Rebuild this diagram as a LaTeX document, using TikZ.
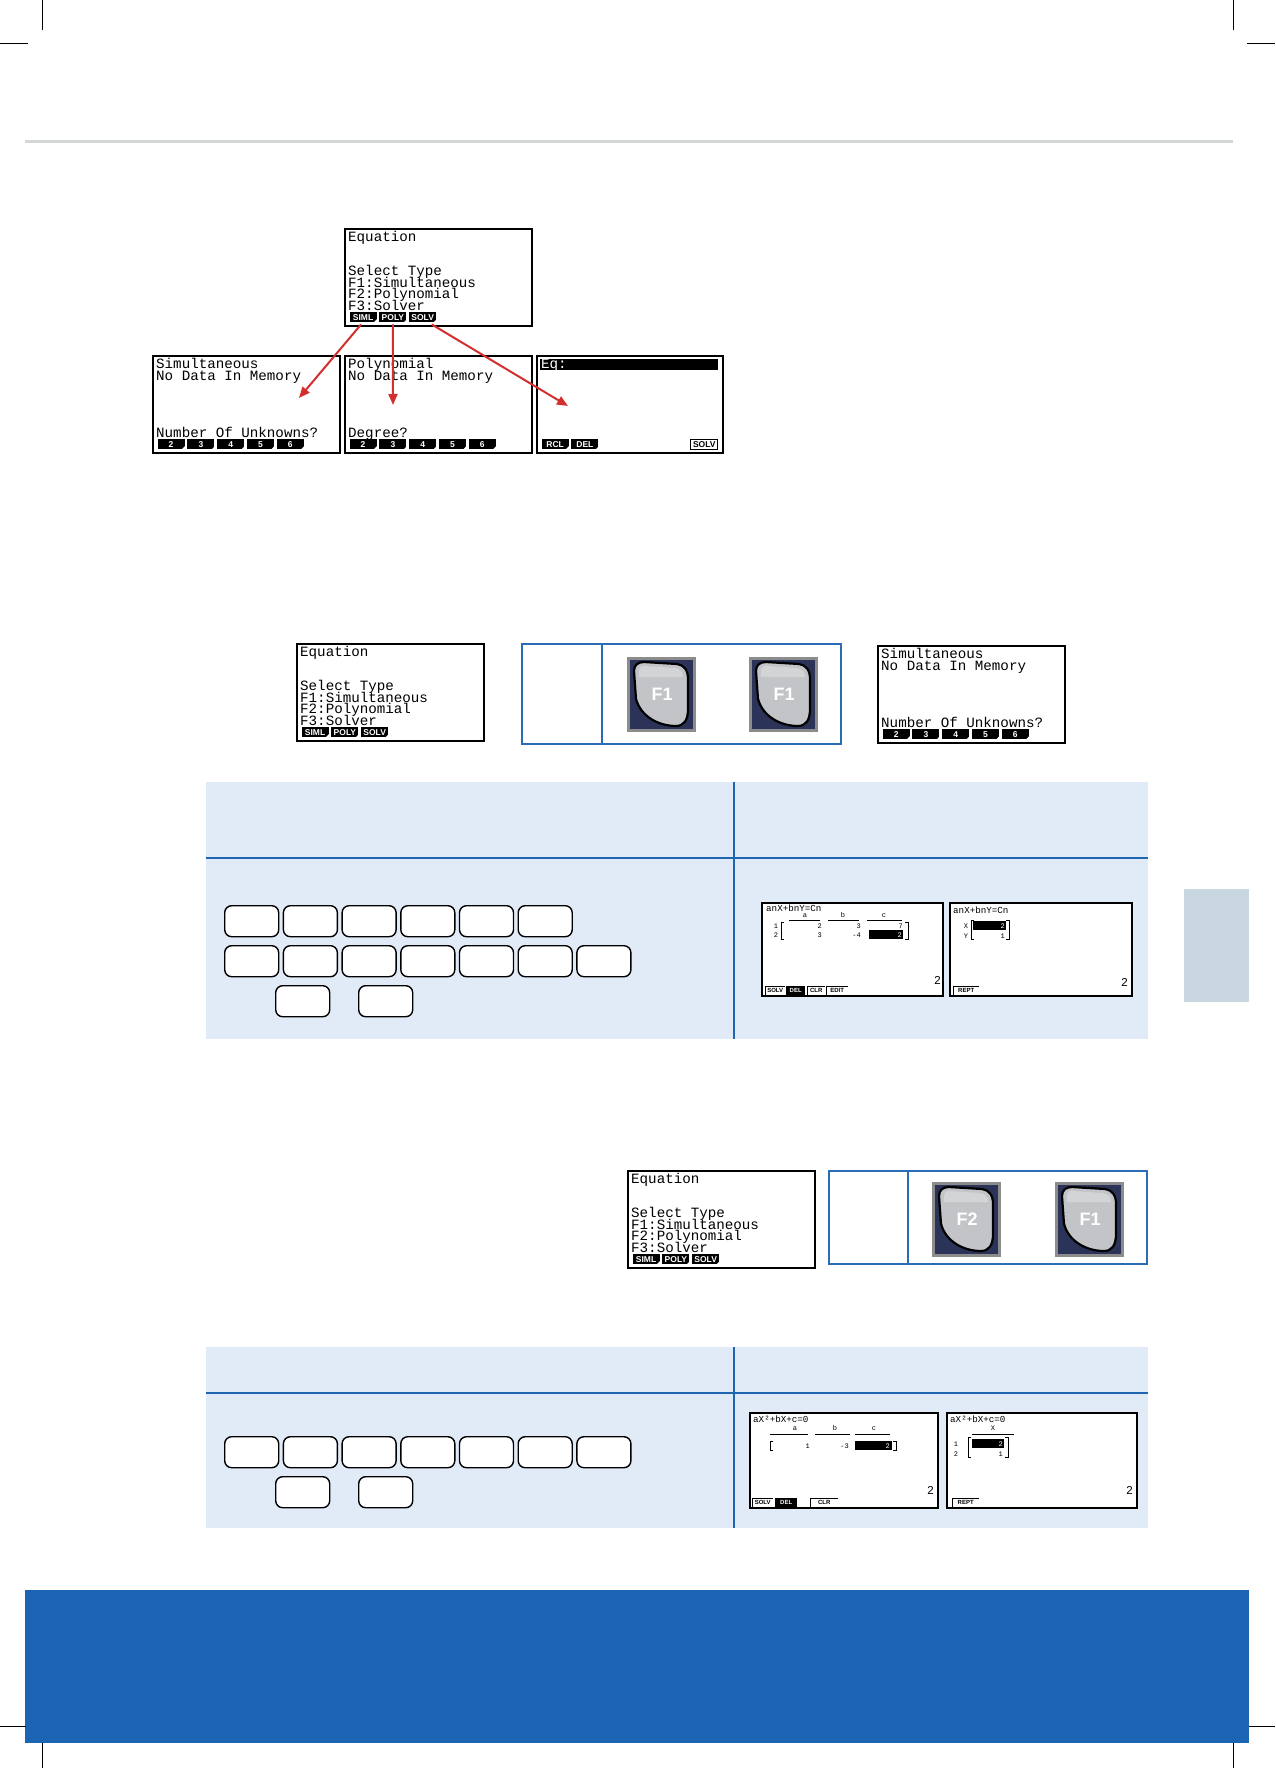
\documentclass[tikz,border=0pt]{standalone}
\usepackage{fontspec}
\usetikzlibrary{calc,arrows.meta}
\newfontfamily\lcdfam{Liberation Mono}
\newfontfamily\keyfam{Liberation Sans}
\definecolor{rulegray}{HTML}{D3D7D7}
\definecolor{tabfill}{HTML}{E1EBF7}
\definecolor{tabline}{HTML}{1F66B0}
\definecolor{bandblue}{HTML}{1C65B5}
\definecolor{sidetab}{HTML}{C8D7E0}
\definecolor{arrred}{HTML}{D32F2F}
\definecolor{keynavy}{HTML}{2B3458}
\definecolor{keyframe}{HTML}{8C8C8C}
\definecolor{keyface}{HTML}{C2C4C7}
\definecolor{keyhi}{HTML}{D3D4D6}
\definecolor{boxline}{HTML}{2A6CB5}
\tikzset{
  scr/.style={draw=black, line width=2pt, fill=white, anchor=north west, inner sep=0pt, outer sep=0pt, minimum width=187pt, minimum height=97pt},
  lcdtxt/.style={anchor=base west, inner sep=0pt, font={\lcdfam\fontsize{14.2}{14}\selectfont}},
  skbox/.style={anchor=north west, fill=black, text=white, minimum width=27pt, minimum height=10pt, inner sep=0pt, font={\keyfam\bfseries\fontsize{8.5}{9}\selectfont}},
  skout/.style={anchor=north west, draw=black, line width=0.8pt, fill=white, text=black, minimum width=27pt, minimum height=10pt, inner sep=0pt, font={\keyfam\bfseries\fontsize{8.5}{9}\selectfont}},
  redarrow/.style={draw=arrred, line width=2pt, -{Triangle[length=11pt,width=9pt]}},
  bbox/.style={draw=boxline, line width=1.2pt, anchor=north west, inner sep=0pt, outer sep=0pt},
  fkbox/.style={draw=keyframe, fill=keynavy, line width=2.5pt, anchor=north west, minimum width=66pt, minimum height=72pt, inner sep=0pt},
  fklab/.style={text=white, inner sep=0pt, font={\keyfam\bfseries\fontsize{18}{18}\selectfont}},
  ckey/.style={draw=black, line width=1.4pt, fill=white, rounded corners=7pt, anchor=north west, minimum width=54pt, minimum height=31pt, inner sep=0pt},
  tline/.style={draw=tabline, line width=2pt},
  sscr/.style={draw=black, line width=2pt, fill=white, anchor=north west, inner sep=0pt, outer sep=0pt},
  stitle/.style={anchor=base west, inner sep=0pt, font={\lcdfam\fontsize{9.2}{9}\selectfont}},
  stiny/.style={anchor=base, inner sep=0pt, font={\lcdfam\fontsize{7}{7}\selectfont}},
  stinye/.style={anchor=base east, inner sep=0pt, font={\lcdfam\fontsize{7}{7}\selectfont}},
  sbig/.style={anchor=base east, inner sep=0pt, font={\keyfam\fontsize{11.5}{12}\selectfont}},
  sskd/.style={anchor=north west, fill=black, text=white, inner sep=0pt, minimum height=9pt, font={\keyfam\bfseries\fontsize{6}{6}\selectfont}},
  ssko/.style={anchor=north west, text=black, inner sep=0pt, minimum height=9pt, font={\keyfam\bfseries\fontsize{6}{6}\selectfont}},
  hl/.style={fill=black, anchor=north west, inner sep=0pt},
  thin/.style={line width=0.8pt},
  crop/.style={draw=black, line width=0.8pt}
}
\newcommand\lrow[4]{\node[lcdtxt] (#1r#2c#3) at ($(#1.north west)+({3+#3*8.52},{12.9+#2*11.36})$) {#4};}
\newcommand\skey[3]{%
  \node[skbox] (#1k#2) at ($(#1.north west)+({4.4+29.8*#2},83)$) {#3};
  \fill[white] ($(#1k#2.south east)+(0.2,0.2)$) -- ++(-3.4,0) -- ++(3.4,-3.4) -- cycle;}
\newcommand\fkey[4]{%
  \node[fkbox] (#1) at (#2,#3) {};
  \begin{scope}[shift={(#2,#3)}]
    \filldraw[fill=keyface, draw=black, line width=2.2pt]
      (7,14) .. controls (7,8) and (11,5) .. (17,5) -- (50,7)
      .. controls (57,8) and (61,13) .. (61,22) -- (61,52)
      .. controls (61,63) and (57,69) .. (49,69)
      .. controls (32,69) and (14,60) .. (9,42) -- cycle;
    \fill[keyhi] (12,13) .. controls (12,10) and (14,9) .. (18,9) -- (48,11)
      .. controls (53,12) and (56,15) .. (56,20) -- (12,20) -- cycle;
  \end{scope}
  \node[fklab] (#1l) at ($(#1.north west)+(35,37)$) {#4};}
\newcommand\otl[1]{\draw[line width=0.7pt] (#1.south west) -- (#1.north west) -- (#1.north east);}
\begin{document}
\begin{tikzpicture}[x=1pt,y=-1pt]
\useasboundingbox (0,0) rectangle (1275,1768);
\fill[white] (0,0) rectangle (1275,1768);
% top rule
\draw[rulegray, line width=3pt] (25,142) -- (1233,142);
% ---------- section 1: tree of screens
\node[scr] (S0) at (345,229) {};
\lrow{S0}{0}{0}{Equation}
\lrow{S0}{3}{0}{Select Type}
\lrow{S0}{4}{0}{F1:Simultaneous}
\lrow{S0}{5}{0}{F2:Polynomial}
\lrow{S0}{6}{0}{F3:Solver}
\skey{S0}{0}{SIML}\skey{S0}{1}{POLY}\skey{S0}{2}{SOLV}

\node[scr] (S1) at (153,356) {};
\lrow{S1}{0}{0}{Simultaneous}
\lrow{S1}{1}{0}{No Data In Memory}
\lrow{S1}{6}{0}{Number Of Unknowns?}
\skey{S1}{0}{2}\skey{S1}{1}{3}\skey{S1}{2}{4}\skey{S1}{3}{5}\skey{S1}{4}{6}

\node[scr] (S2) at (345,356) {};
\lrow{S2}{0}{0}{Polynomial}
\lrow{S2}{1}{0}{No Data In Memory}
\lrow{S2}{6}{0}{Degree?}
\skey{S2}{0}{2}\skey{S2}{1}{3}\skey{S2}{2}{4}\skey{S2}{3}{5}\skey{S2}{4}{6}

\node[scr, minimum width=186pt] (S3) at (537,356) {};
\node[hl, minimum width=178pt, minimum height=11pt] (S3bar) at ($(S3.north west)+(3,3)$) {};
\node[lcdtxt, text=white] (S3eq) at ($(S3.north west)+(4,12.9)$) {Eq:};
\skey{S3}{0}{RCL}\skey{S3}{1}{DEL}
\node[skout] (S3k5) at ($(S3.north west)+(153.4,83)$) {SOLV};

\draw[redarrow] ($(S0k0.south)+(-2,2)$) -- (299,398) coordinate (a1e);
\draw[redarrow] ($(S0k1.south)+(0,2)$) -- (393,405) coordinate (a2e);
\draw[redarrow] ($(S0k2.south)+(9,2)$) -- (568,406) coordinate (a3e);

% ---------- section 2
\node[scr] (S4) at (297,644) {};
\lrow{S4}{0}{0}{Equation}
\lrow{S4}{3}{0}{Select Type}
\lrow{S4}{4}{0}{F1:Simultaneous}
\lrow{S4}{5}{0}{F2:Polynomial}
\lrow{S4}{6}{0}{F3:Solver}
\skey{S4}{0}{SIML}\skey{S4}{1}{POLY}\skey{S4}{2}{SOLV}

\node[bbox, minimum width=319pt, minimum height=100pt] (B1) at (522,644) {};
\draw[boxline, line width=1.2pt] ($(B1.north west)+(80,0)$) -- ($(B1.south west)+(80,0)$);
\fkey{K1}{627}{657}{F1}
\fkey{K2}{749}{657}{F1}

\node[scr] (S5) at (878,646) {};
\lrow{S5}{0}{0}{Simultaneous}
\lrow{S5}{1}{0}{No Data In Memory}
\lrow{S5}{6}{0}{Number Of Unknowns?}
\skey{S5}{0}{2}\skey{S5}{1}{3}\skey{S5}{2}{4}\skey{S5}{3}{5}\skey{S5}{4}{6}

% ---------- table 1
\fill[tabfill] (206,782) rectangle (1148,1039);
\draw[tline] (206,858) -- (1148,858);
\draw[tline] (734,782) -- (734,1039);
\foreach \i in {0,...,5} \node[ckey] (ka\i) at ({224+58.7*\i},905) {};
\foreach \i in {0,...,6} \node[ckey] (kb\i) at ({224+58.7*\i},945) {};
\node[ckey] (kc0) at (275,985) {};
\node[ckey] (kc1) at (358,985) {};

\begin{scope}[shift={(762,903)}]
\node[sscr, minimum width=181pt, minimum height=93pt] (A1) at (0,0) {};
\node[stitle] (A1t) at (4,8.5) {anX+bnY=Cn};
\node[stiny] (A1ha) at (43,14.5) {a};
\node[stiny] (A1hb) at (81,14.5) {b};
\node[stiny] (A1hc) at (122,14.5) {c};
\draw[thin] (27,17) -- (58,17) (66,17) -- (97,17) (105,17) -- (140,17);
\node[stiny] (A1r1) at (14,25) {1};
\node[stiny] (A1r2) at (14,34) {2};
\draw[thin] (22,19) -- (19,19) -- (19,36) -- (22,36);
\draw[thin] (143,19) -- (146,19) -- (146,36) -- (143,36);
\node[stinye] (A1v11) at (60,25) {2};
\node[stinye] (A1v12) at (99,25) {3};
\node[stinye] (A1v13) at (141,25) {7};
\node[stinye] (A1v21) at (60,34) {3};
\node[stinye] (A1v22) at (99,34) {-4};
\node[hl, minimum width=34pt, minimum height=9pt] (A1hl) at (107,27) {};
\node[stinye, text=white] (A1v23) at (140,34) {2};
\node[sbig] (A1n) at (179,81) {2};
\node[ssko, minimum width=20pt] (A1k0) at (3,83) {SOLV}; \otl{A1k0}
\node[sskd, minimum width=19pt] (A1k1) at (24,83) {DEL};
\node[ssko, minimum width=18pt] (A1k2) at (45,83) {CLR}; \otl{A1k2}
\node[ssko, minimum width=22pt] (A1k3) at (64,83) {EDIT}; \otl{A1k3}
\end{scope}

\begin{scope}[shift={(950,903)}]
\node[sscr, minimum width=182pt, minimum height=93pt] (A2) at (0,0) {};
\node[stitle] (A2t) at (3,10) {anX+bnY=Cn};
\node[stiny] (A2x) at (16,25) {X};
\node[stiny] (A2y) at (16,35) {Y};
\draw[thin] (24,17) -- (21,17) -- (21,36) -- (24,36);
\draw[thin] (56,17) -- (59,17) -- (59,36) -- (56,36);
\node[hl, minimum width=33pt, minimum height=9pt] (A2hl) at (23,18) {};
\node[stinye, text=white] (A2v1) at (55,25.5) {2};
\node[stinye] (A2v2) at (55,35) {1};
\node[sbig] (A2n) at (178,83) {2};
\node[ssko, minimum width=26pt] (A2k0) at (3,83) {REPT}; \otl{A2k0}
\end{scope}

% right side tab
\fill[sidetab] (1184,889) rectangle (1249,1002);

% ---------- section 3
\node[scr] (S6) at (628,1171) {};
\lrow{S6}{0}{0}{Equation}
\lrow{S6}{3}{0}{Select Type}
\lrow{S6}{4}{0}{F1:Simultaneous}
\lrow{S6}{5}{0}{F2:Polynomial}
\lrow{S6}{6}{0}{F3:Solver}
\skey{S6}{0}{SIML}\skey{S6}{1}{POLY}\skey{S6}{2}{SOLV}

\node[bbox, minimum width=318pt, minimum height=93pt] (B2) at (829,1171) {};
\draw[boxline, line width=1.2pt] ($(B2.north west)+(79,0)$) -- ($(B2.south west)+(79,0)$);
\fkey{K3}{932}{1182}{F2}
\fkey{K4}{1055}{1182}{F1}

% ---------- table 2
\fill[tabfill] (206,1347) rectangle (1148,1528);
\draw[tline] (206,1393) -- (1148,1393);
\draw[tline] (734,1347) -- (734,1528);
\foreach \i in {0,...,6} \node[ckey] (kd\i) at ({224+58.7*\i},1436) {};
\node[ckey] (ke0) at (275,1476) {};
\node[ckey] (ke1) at (358,1476) {};

\begin{scope}[shift={(750,1413)}]
\node[sscr, minimum width=188pt, minimum height=95pt] (A3) at (0,0) {};
\node[stitle] (A3t) at (3,9) {aX²+bX+c=0};
\node[stiny] (A3ha) at (45,17) {a};
\node[stiny] (A3hb) at (85,17) {b};
\node[stiny] (A3hc) at (124,17) {c};
\draw[thin] (20,21) -- (58,21) (65,21) -- (100,21) (105,21) -- (140,21);
\draw[thin] (23,28) -- (20,28) -- (20,37) -- (23,37);
\node[stinye] (A3v1) at (60,35.5) {1};
\node[stinye] (A3v2) at (99,35.5) {-3};
\node[hl, minimum width=37pt, minimum height=9.5pt] (A3hl) at (105,27.5) {};
\node[stinye, text=white] (A3v3) at (140,35.5) {2};
\draw[thin] (143,28) -- (146,28) -- (146,37) -- (143,37);
\node[sbig] (A3n) at (184,81) {2};
\node[ssko, minimum width=21pt] (A3k0) at (2,85) {SOLV}; \otl{A3k0}
\node[sskd, minimum width=22pt] (A3k1) at (25,85) {DEL};
\node[ssko, minimum width=28pt] (A3k2) at (60,85) {CLR}; \otl{A3k2}
\end{scope}

\begin{scope}[shift={(947,1413)}]
\node[sscr, minimum width=190pt, minimum height=95pt] (A4) at (0,0) {};
\node[stitle] (A4t) at (3,9) {aX²+bX+c=0};
\node[stiny] (A4hx) at (46,17) {X};
\draw[thin] (25,21) -- (67,21);
\node[stiny] (A4r1) at (9,33) {1};
\node[stiny] (A4r2) at (9,43) {2};
\draw[thin] (24,24) -- (21,24) -- (21,44) -- (24,44);
\draw[thin] (58,24) -- (61,24) -- (61,44) -- (58,44);
\node[hl, minimum width=32pt, minimum height=9.5pt] (A4hl) at (25,25.5) {};
\node[stinye, text=white] (A4v1) at (56,33.5) {2};
\node[stinye] (A4v2) at (56,43) {1};
\node[sbig] (A4n) at (186,81) {2};
\node[ssko, minimum width=27pt] (A4k0) at (5,85) {REPT}; \otl{A4k0}
\end{scope}

% ---------- bottom band
\fill[bandblue] (25,1590) rectangle (1249,1743);

% crop marks
\draw[crop] (42,0) -- (42,30);
\draw[crop] (0,43) -- (28,43);
\draw[crop] (1233,0) -- (1233,30);
\draw[crop] (1247,43) -- (1275,43);
\draw[crop] (0,1726) -- (26,1726);
\draw[crop] (1249,1726) -- (1275,1726);
\draw[crop] (42,1743) -- (42,1768);
\draw[crop] (1233,1743) -- (1233,1768);
\end{tikzpicture}
\end{document}
